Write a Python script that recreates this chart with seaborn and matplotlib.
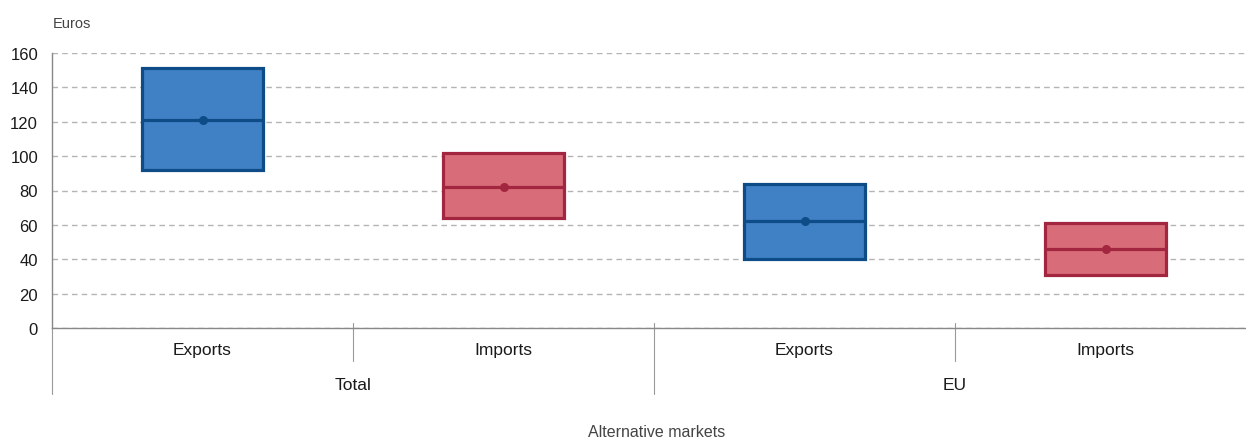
import matplotlib
matplotlib.use("Agg")
import matplotlib.pyplot as plt
import matplotlib.transforms as mtransforms
import numpy as np
import pandas as pd
import seaborn as sns

# box values (euros)
groups = ["Total", "Total", "EU", "EU"]
flows = ["Exports", "Imports", "Exports", "Imports"]
low = [92, 64, 40, 31]
mid = [121, 82, 62, 46]
high = [151, 102, 84, 61]
yticks = [0, 20, 40, 60, 80, 100, 120, 140, 160]

keys = [g + " " + f for g, f in zip(groups, flows)]

# five values per box so that Q1 = low, median = mid, Q3 = high
rows = []
for k, f, lo, md, hi in zip(keys, flows, low, mid, high):
    for v in [lo, lo, md, hi, hi]:
        rows.append({"key": k, "flow": f, "value": v})
df = pd.DataFrame(rows)
dfmid = pd.DataFrame({"key": keys, "flow": flows, "value": mid})

fill = {"Exports": "#4080C4", "Imports": "#D96C79"}
edge = {"Exports": "#0E4C88", "Imports": "#A2263F"}

sns.set_style("white")
plt.rcParams["font.family"] = ["Liberation Sans", "DejaVu Sans"]

fig = plt.figure(figsize=(12.46, 4.39), dpi=100)
ax = fig.add_axes([52 / 1246, 110 / 439, 1 - 52 / 1246, 275 / 439])

for f in ["Exports", "Imports"]:
    sns.boxplot(data=df[df.flow == f], x="key", y="value", order=keys,
                color=fill[f], linecolor=edge[f], saturation=1, width=0.4,
                whis=0, showcaps=False, showfliers=False, linewidth=2.3, ax=ax)
    sns.stripplot(data=dfmid[dfmid.flow == f], x="key", y="value", order=keys,
                  jitter=False, color=edge[f], size=6.5, ax=ax, zorder=5)

ax.set_xlim(-0.5, -0.5 + 1194 / 301)
ax.set_ylim(0, 160)
ax.set_yticks(yticks)
ax.set_yticklabels([str(t) for t in yticks], fontsize=12, color="#1A1A1A")
ax.set_xlabel("")
ax.set_ylabel("")
ax.set_xticks([])
ax.yaxis.grid(True, linestyle=(0, (4, 3)), color="#B4B4B4", linewidth=1)
ax.set_axisbelow(True)
ax.tick_params(axis="y", length=0, pad=10)
for s in ["top", "right"]:
    ax.spines[s].set_visible(False)
ax.spines["left"].set_color("#888888")
ax.spines["bottom"].set_color("#888888")
ax.spines["left"].set_linewidth(1)
ax.spines["bottom"].set_linewidth(1)

# hierarchical category axis below the plot
trans = mtransforms.blended_transform_factory(ax.transData, ax.transAxes)
for i, f in enumerate(flows):
    ax.text(i, -0.08, f, transform=trans, ha="center", va="center",
            fontsize=12.5, color="#1A1A1A")
group_names = ["Total", "EU"]
for j, g in enumerate(group_names):
    ax.text(2 * j + 0.5, -0.205, g, transform=trans, ha="center", va="center",
            fontsize=12.5, color="#1A1A1A")
for xs, yb in [(0.5, -0.12), (1.5, -0.24), (2.5, -0.12)]:
    ax.plot([xs, xs], [0.018, yb], transform=trans, color="#999999",
            lw=0.8, clip_on=False)
ax.plot([-0.5, -0.5], [0, -0.24], transform=trans, color="#999999",
        lw=0.8, clip_on=False)

fig.text(72 / 1246, 1 - 24 / 439, "Euros", ha="center", va="center",
         fontsize=10.5, color="#444444")
fig.text(657 / 1246, 1 - 433 / 439, "Alternative markets", ha="center",
         va="center", fontsize=11.5, color="#444444")

fig.savefig("out.png", dpi=100)
